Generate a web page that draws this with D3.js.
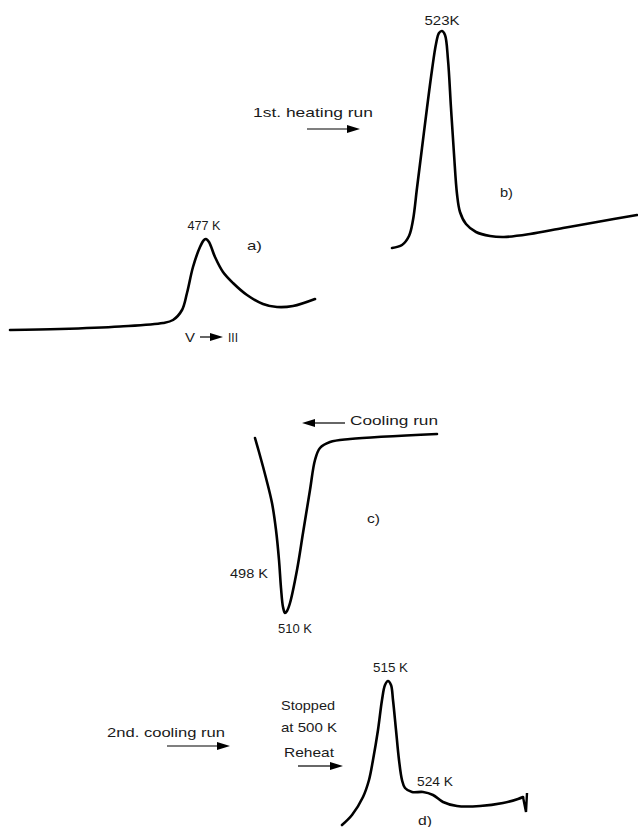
<!DOCTYPE html>
<html>
<head>
<meta charset="utf-8">
<script src="https://cdn.jsdelivr.net/npm/d3@7"></script>
<style>
  html, body { margin: 0; padding: 0; background: #fff; }
  svg { display: block; }
  text { font-family: "Liberation Sans", Arial, sans-serif; fill: #1a1a1a; }
</style>
</head>
<body>
<svg id="chart" width="638" height="827"></svg>
<script>
// ---- Data (x: sweep position, y: heat-flow signal in arbitrary units) ----
const curveA = [[5,5],[30,5.5],[60,6.75],[81.5,8.5],[86.5,10],[91,15],[93.5,23.5],[96.5,36.5],[100,46.5],[102,50],[103,50.5],[104.5,49],[107.5,41.5],[111.5,34],[116.5,28.5],[123.5,22.5],[131.5,18],[138.5,16.5],[146.5,17],[157.5,20.5]];
const curveB = [[196,6],[201,7.5],[204.5,12],[206.5,20],[208.5,36],[211,56],[213.5,76],[216,95],[218,108],[219.5,113.5],[221,114.5],[222.5,112.5],[224,100],[225.5,76],[227,53],[228.5,33],[230,24],[233,18],[238,14],[245,12],[252,11.5],[265,13],[281.5,16],[298.5,19],[318.5,22.5]];
const curveC = [[127.5,1],[129.5,-6],[133,-19],[136,-31.5],[138,-45],[139.5,-60],[140.5,-74],[141.5,-83.5],[142.5,-86.5],[143.5,-85.5],[145,-81.5],[148.5,-65],[151.5,-46.5],[155,-25],[157.5,-10],[160,-4],[165,-1],[175,0.5],[218.5,3]];
const curveD = [[171,2.5],[176,7.5],[181.5,16.5],[184.5,25],[186.5,35],[189,50],[191,65],[192.5,72.5],[194,74.5],[195.5,72.5],[196.5,65],[198,50],[199.5,35],[201,25],[202.5,21],[206,19],[211.5,19],[216.5,17.5],[221.5,14],[228.5,12],[240,12],[251.5,13.5],[259,15.5],[261.5,16.5]];
const curveDEnd = [[261.5,16.5],[263,9],[263.5,18.5]];

const curveNames = ["a","b","c","d"];
const labelTexts = ["477 K","a)","V","III","523K","b)","1st. heating run","Cooling run","c)","498 K","510 K","515 K","524 K","d)","2nd. cooling run","Stopped","at 500 K","Reheat"];
const labelPanels = ["a","a","a","a","b","b","b","c","c","c","c","d","d","d","d","d","d","d"];
const labelX = [102,123.5,92.5,114,221,250,126.5,175,183.5,115,139,186.5,208.5,209,53.5,140.5,140.5,142];
const labelY = [55,45,-1,-1,117.5,31.5,71.5,7.5,-41.5,-69,-96.5,79,22,2.5,46.5,60,49,36.5];

const arrowPanels = ["a","b","c","d","d"];
const arrowFrom = [100,153.5,172.5,83.5,149];
const arrowTo = [111.5,180,151,115,171.5];
const arrowY = [1.5,65.5,8.5,42,32];

// ---- Layout ----
const W = 638, H = 827;
const panelBase = {a: 340, b: 260, c: 440, d: 830};
const labelAnchor = {"477 K":"middle","523K":"middle"};
const labelWidth = {"477 K":33,"a)":15,"V":10,"III":10,"523K":35,"b)":13,"1st. heating run":120,"Cooling run":88,"c)":13,"498 K":38,"510 K":34,"515 K":35,"524 K":36,"d)":14,"2nd. cooling run":118,"Stopped":54,"at 500 K":56,"Reheat":50};

const svg = d3.select("#chart");
const x = d3.scaleLinear().domain([0, 319]).range([0, W]);
const yScale = {};
for (const p of curveNames) {
  yScale[p] = d3.scaleLinear().domain([0, 100]).range([panelBase[p], panelBase[p] - 200]);
}

const curves = [
  {p: "a", pts: curveA},
  {p: "b", pts: curveB},
  {p: "c", pts: curveC},
  {p: "d", pts: curveD}
];
for (const c of curves) {
  const line = d3.line().x(d => x(d[0])).y(d => yScale[c.p](d[1])).curve(d3.curveCatmullRom.alpha(0.5));
  svg.append("path").datum(c.pts).attr("d", line)
    .attr("fill", "none").attr("stroke", "#000").attr("stroke-width", 2.6)
    .attr("stroke-linecap", "round").attr("stroke-linejoin", "round");
}
const lineEnd = d3.line().x(d => x(d[0])).y(d => yScale.d(d[1]));
svg.append("path").datum(curveDEnd).attr("d", lineEnd)
  .attr("fill", "none").attr("stroke", "#000").attr("stroke-width", 2.4)
  .attr("stroke-linejoin", "miter");

// labels
labelTexts.forEach((t, i) => {
  const p = labelPanels[i];
  const el = svg.append("text")
    .attr("x", x(labelX[i])).attr("y", yScale[p](labelY[i]))
    .attr("font-size", 13.5)
    .attr("text-anchor", labelAnchor[t] || "start")
    .text(t);
  if (labelWidth[t]) el.attr("textLength", labelWidth[t]).attr("lengthAdjust", "spacingAndGlyphs");
});

// arrows
arrowPanels.forEach((p, i) => {
  const x1 = x(arrowFrom[i]), x2 = x(arrowTo[i]), yy = yScale[p](arrowY[i]);
  const dir = x2 > x1 ? 1 : -1;
  const head = 13, hw = 4;
  svg.append("line").attr("x1", x1).attr("x2", x2 - dir * head).attr("y1", yy).attr("y2", yy)
    .attr("stroke", "#000").attr("stroke-width", 1.2);
  svg.append("path")
    .attr("d", `M${x2},${yy} L${x2 - dir * head},${yy - hw} L${x2 - dir * head},${yy + hw} Z`)
    .attr("fill", "#000");
});
</script>
</body>
</html>
